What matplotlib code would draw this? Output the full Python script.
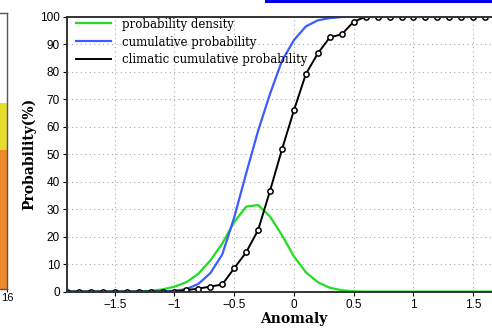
"""Probability density / cumulative probability of the forecast anomaly (out.png)."""

import matplotlib

matplotlib.use("Agg")
import matplotlib.pyplot as plt
from matplotlib.patches import Rectangle

# anomaly grid (0.1 steps) and the three curves, in %
anomaly = [-1.9, -1.8, -1.7, -1.6, -1.5, -1.4, -1.3, -1.2, -1.1, -1.0,
           -0.9, -0.8, -0.7, -0.6, -0.5, -0.4, -0.3, -0.2, -0.1, 0.0,
           0.1, 0.2, 0.3, 0.4, 0.5, 0.6, 0.7, 0.8, 0.9, 1.0,
           1.1, 1.2, 1.3, 1.4, 1.5, 1.6, 1.7, 1.8, 1.9]
prob_density = [0, 0, 0, 0, 0, 0, 0, 0.3, 0.8, 1.8,
                3.4, 6.5, 11.3, 17.5, 25.3, 30.9, 31.5, 27.3, 20.5, 12.8,
                7.0, 3.4, 1.4, 0.5, 0.1, 0, 0, 0, 0, 0,
                0, 0, 0, 0, 0, 0, 0, 0, 0]
cum_prob = [0, 0, 0, 0, 0, 0, 0, 0, 0, 0.3,
            0.9, 2.8, 6.7, 13.5, 27.0, 43.0, 58.5, 72.0, 84.0, 91.5,
            96.5, 98.7, 99.5, 99.9, 100, 100, 100, 100, 100, 100,
            100, 100, 100, 100, 100, 100, 100, 100, 100]
clim_cum_prob = [0, 0, 0, 0, 0, 0, 0, 0, 0, 0,
                 0.5, 1.1, 1.8, 2.6, 8.5, 14.3, 22.4, 36.7, 51.8, 66.0,
                 79.2, 86.7, 92.5, 93.6, 98.2, 100, 100, 100, 100, 100,
                 100, 100, 100, 100, 100, 100, 100, 100, 100]

x_ticks = [-1.5, -1, -0.5, 0, 0.5, 1, 1.5]
x_ticklabels = ["\u22121.5", "\u22121", "\u22120.5", "0", "0.5", "1", "1.5"]
y_ticks = [0, 10, 20, 30, 40, 50, 60, 70, 80, 90, 100]

# neighbouring panel, cut off at the left edge of the crop
side_cat = [16]
side_lower = [50.5]
side_upper = [17.0]

_C_PDF = "#22dd22"
_C_CUM = "#3c5cff"
_C_CLIM = "#000000"
_SERIF = "DejaVu Serif"
_SANS = "Liberation Sans"

fig = plt.figure(figsize=(4.92, 3.28), dpi=100)

# ── left strip: stacked bar of the adjacent panel ──
axl = fig.add_axes([-0.03, 0.119, 0.0442, 0.841])
axl.bar(side_cat, side_lower, width=1.0, color="#ee8a2a", align="center")
axl.bar(side_cat, side_upper, bottom=side_lower, width=1.0, color="#e6dc2a", align="center")
axl.set_xlim(14.5, 16.0)
axl.set_ylim(0, 100)
axl.set_xticks([16])
axl.set_xticklabels(["16"], fontsize=8, family=_SANS)
axl.set_yticks([])
axl.tick_params(axis="x", length=2, pad=1)
for s in axl.spines.values():
    s.set_color("#555555")
    s.set_linewidth(1.0)

# ── main panel ──
ax = fig.add_axes([0.136, 0.111, 0.923, 0.838])
ax.plot(anomaly, prob_density, color=_C_PDF, lw=1.6, label="probability density")
ax.plot(anomaly, cum_prob, color=_C_CUM, lw=1.6, label="cumulative probability")
ax.plot(anomaly, clim_cum_prob, "o-", color=_C_CLIM, lw=1.4, ms=3.8,
        mfc="white", mec=_C_CLIM, mew=1.1, label="climatic cumulative probability",
        zorder=4)

ax.set_xlim(-1.9, 1.9)
ax.set_ylim(0, 100)
ax.set_xticks(x_ticks)
ax.set_xticklabels(x_ticklabels)
ax.set_yticks(y_ticks)
ax.grid(True, color="#aaaaaa", ls=(0, (1, 3)), lw=0.8)
ax.set_axisbelow(True)
ax.tick_params(labelsize=8.5, length=3, width=0.8, pad=2)
for lab in ax.get_xticklabels() + ax.get_yticklabels():
    lab.set_family(_SANS)
for s in ax.spines.values():
    s.set_color("#333333")
    s.set_linewidth(1.4)
    s.set_zorder(5)

ax.set_xlabel("Anomaly", family=_SERIF, fontsize=10, fontweight="bold", labelpad=1)
ax.set_ylabel("Probability(%)", family=_SERIF, fontsize=10, fontweight="bold", labelpad=3)

leg = ax.legend(loc="upper left", bbox_to_anchor=(0.02, 0.997), frameon=False,
                prop={"family": _SERIF, "size": 8.5}, handlelength=3.0,
                handletextpad=0.9, labelspacing=0.42, borderaxespad=0, borderpad=0)
for h in leg.legend_handles:
    h.set_marker("")

# bit of the blue frame from the panel above
fig.add_artist(Rectangle((265 / 492, 1 - 3 / 328), 1, 3 / 328,
                         transform=fig.transFigure, color="#0000ee", lw=0))

fig.savefig("out.png", dpi=100)
